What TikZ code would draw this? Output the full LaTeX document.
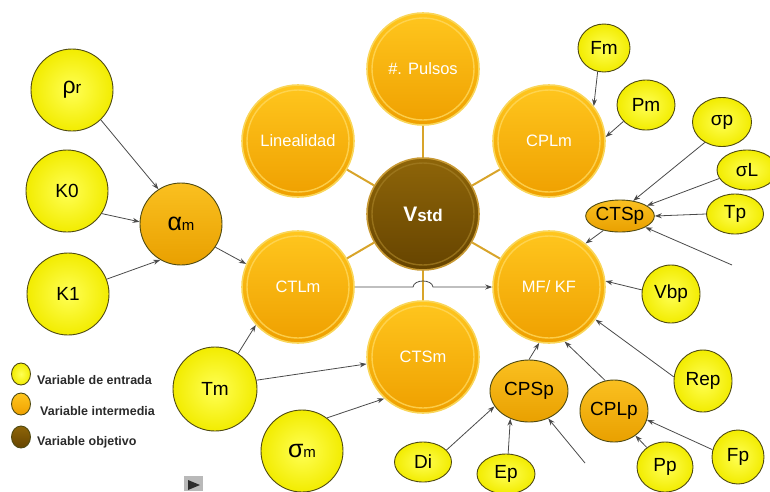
\documentclass[tikz,border=0pt]{standalone}
\usepackage{fontspec}
\setmainfont{Liberation Sans}
\usetikzlibrary{shapes.geometric,arrows.meta}

\definecolor{inYellowIn}{HTML}{FFFF55}
\definecolor{inYellowOut}{HTML}{F2EC00}
\definecolor{inEdge}{HTML}{4F4A12}
\definecolor{goldTop}{HTML}{FFC61E}
\definecolor{goldBot}{HTML}{EFA000}
\definecolor{goldRim}{HTML}{F9D65A}
\definecolor{goldGloss}{HTML}{FFD85C}
\definecolor{midTop}{HTML}{FAC020}
\definecolor{midBot}{HTML}{E9A000}
\definecolor{hubTop}{HTML}{8E6509}
\definecolor{hubBot}{HTML}{664400}
\definecolor{hubRim}{HTML}{C89A35}
\definecolor{hubGloss}{HTML}{A07A20}
\definecolor{spoke}{HTML}{D8A42A}
\definecolor{link}{HTML}{4A4A4A}
\definecolor{legText}{HTML}{2A2A2A}

\newcommand\setfs[1]{\fontsize{#1}{#1}\selectfont}

\begin{document}
\begin{tikzpicture}[x=1pt,y=-1pt,
  bigc/.style={circle, minimum size=112pt, inner sep=0pt,
    top color=goldTop, bottom color=goldBot, draw=goldRim, line width=1.6pt,
    text=white, font=\setfs{16.5},
    path picture={\draw[goldGloss, line width=1.4pt, opacity=0.8]
      (path picture bounding box.center) circle (51pt);}},
  hubc/.style={circle, minimum size=112pt, inner sep=0pt,
    top color=hubTop, bottom color=hubBot, draw=hubRim, line width=1.6pt,
    text=white, font=\bfseries\setfs{21},
    path picture={\draw[hubGloss, line width=1.4pt, opacity=0.8]
      (path picture bounding box.center) circle (51pt);}},
  inp/.style={ellipse, inner sep=0pt, shading=radial,
    inner color=inYellowIn, outer color=inYellowOut,
    draw=inEdge, line width=0.9pt, text=black, font=\setfs{19}},
  mid/.style={ellipse, inner sep=0pt, top color=midTop, bottom color=midBot,
    draw=inEdge, line width=0.9pt, text=black, font=\setfs{19}},
  arr/.style={draw=link, line width=0.8pt, -{Stealth[length=7pt,width=5pt]}},
  spk/.style={draw=spoke, line width=2pt},
  legtxt/.style={anchor=west, inner sep=0pt, font=\bfseries\setfs{12.5}, text=legText}
]
\useasboundingbox (0,0) rectangle (770,491);

% central hub and its ring of intermediate variables
\node[hubc] (Vstd) at (423,214) {V\setfs{17}std};
\node[bigc] (Lin)  at (298,141) {Linealidad};
\node[bigc] (Pul)  at (423,69)  {\#. Pulsos};
\node[bigc] (CPLm) at (549,141) {CPLm};
\node[bigc] (CTLm) at (298,287) {CTLm};
\node[bigc] (MF)   at (549,287) {MF/ KF};
\node[bigc] (CTSm) at (423,357) {CTSm};

% smaller intermediate variables
\node[mid, minimum width=82pt, minimum height=82pt] (alpha) at (181,224)
  {{\setfs{25}α}{\setfs{15}m}};
\node[mid, minimum width=58pt, minimum height=32pt] (CTSp) at (620,216) {CTSp};
\node[mid, minimum width=78pt, minimum height=62pt] (CPSp) at (529,391) {CPSp};
\node[mid, minimum width=68pt, minimum height=62pt] (CPLp) at (614,411) {CPLp};

% input variables
\node[inp, minimum width=82pt, minimum height=82pt] (rho) at (72,90)
  {{\setfs{23}ρ}{\setfs{17}r}};
\node[inp, minimum width=82pt, minimum height=82pt] (K0) at (67,191) {K0};
\node[inp, minimum width=82pt, minimum height=82pt] (K1) at (68,294) {K1};
\node[inp, minimum width=84pt, minimum height=84pt] (Tm) at (215,389) {Tm};
\node[inp, minimum width=82pt, minimum height=82pt] (sigm) at (302,451)
  {{\setfs{25}σ}{\setfs{15}m}};
\node[inp, minimum width=57pt, minimum height=40pt] (Di) at (423,462) {Di};
\node[inp, minimum width=58pt, minimum height=40pt] (Ep) at (506,474) {Ep};
\node[inp, minimum width=56pt, minimum height=50pt] (Pp) at (665,467) {Pp};
\node[inp, minimum width=52pt, minimum height=54pt] (Fp) at (738,457) {Fp};
\node[inp, minimum width=58pt, minimum height=62pt] (Rep) at (703,381) {Rep};
\node[inp, minimum width=58pt, minimum height=58pt] (Vbp) at (671,294) {Vbp};
\node[inp, minimum width=57pt, minimum height=40pt] (Tp) at (735,214) {Tp};
\node[inp, minimum width=60pt, minimum height=40pt] (sigL) at (747,170) {σL};
\node[inp, minimum width=59pt, minimum height=49pt] (sigp) at (722,122) {σp};
\node[inp, minimum width=58pt, minimum height=50pt] (Pm) at (646,105) {Pm};
\node[inp, minimum width=52pt, minimum height=48pt] (Fm) at (604,48) {Fm};

% loose ends of two incoming arrows
\coordinate (fx1) at (732,265);
\coordinate (fx2) at (585,463);

% spokes of the hub
\foreach \n in {Lin,Pul,CPLm,CTLm,MF,CTSm}
  \draw[spk] (Vstd) -- (\n);

% influence arrows
\draw[arr] (rho.-46) -- (alpha.123);
\draw[arr] (K0.-33) -- (alpha.177);
\draw[arr] (K1.21) -- (alpha.240);
\draw[arr] (alpha.-34) -- (CTLm.156);
\draw[arr] (Tm.57) -- (CTLm.222);
\draw[arr] (Tm.12) -- (CTSm.187);
\draw[arr] (sigm.53) -- (CTSm.227);
\draw[arr] (CTLm.east) -- (413,287) .. controls (414,279) and (432,279) .. (433,287) -- (MF.west);
\draw[arr] (Fm.255) -- (CPLm.38);
\draw[arr] (Pm.216) -- (CPLm.4);
\draw[arr] (sigp.230) -- (CTSp.49);
\draw[arr] (sigL.197) -- (CTSp.21);
\draw[arr] (Tp.west) -- (CTSp.east);
\draw[arr] (fx1) -- (CTSp.-24);
\draw[arr] (CTSp.221) -- (MF.50);
\draw[arr] (Vbp.172) -- (MF.6);
\draw[arr] (Rep.172) -- (MF.-35);
\draw[arr] (CPSp.90) -- (MF.260);
\draw[arr] (CPLp.106) -- (MF.286);
\draw[arr] (Di.27) -- (CPSp.204);
\draw[arr] (Ep.84) -- (CPSp.236);
\draw[arr] (fx2) -- (CPSp.305);
\draw[arr] (Pp.133) -- (CPLp.311);
\draw[arr] (Fp.164) -- (CPLp.-15);

% legend
\node[inp, minimum width=19pt, minimum height=22pt] (leg1) at (21,374) {};
\node[mid, minimum width=19pt, minimum height=22pt, top color=goldTop, bottom color=goldBot] (leg2) at (21,404) {};
\node[mid, minimum width=19pt, minimum height=22pt, top color=hubTop, bottom color=hubBot] (leg3) at (21,437) {};
\node[legtxt] (legA) at (37,380) {Variable de entrada};
\node[legtxt] (legB) at (40,411) {Variable intermedia};
\node[legtxt] (legC) at (37,442) {Variable objetivo};

% small play button
\fill[gray!55] (184,476) rectangle (203,491);
\fill[gray!35!black] (188,480) -- (200,485) -- (188,490) -- cycle;
\end{tikzpicture}
\end{document}
